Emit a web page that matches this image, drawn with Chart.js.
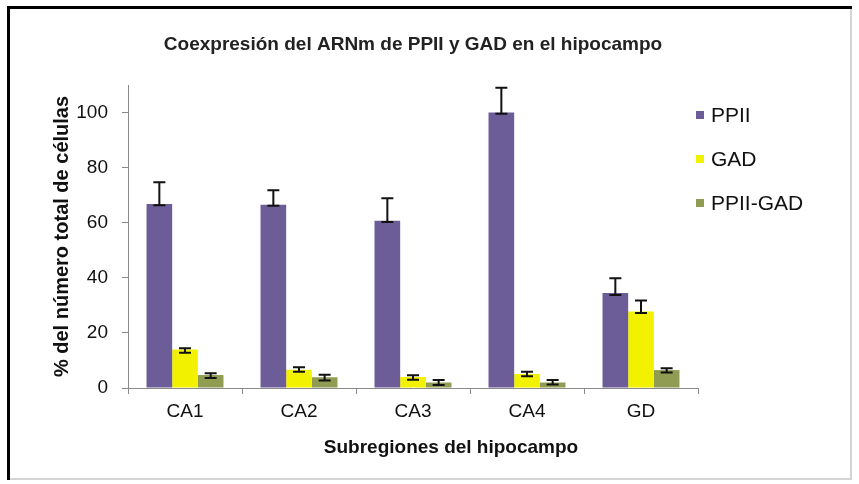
<!DOCTYPE html>
<html>
<head>
<meta charset="utf-8">
<script src="https://cdn.jsdelivr.net/npm/chart.js@4.4.1/dist/chart.umd.min.js"></script>
<style>
    body { margin: 0; background: #fff; }
    canvas { display: block; }
</style>
</head>
<body>
<canvas id="grafica" width="859" height="484"></canvas>
<script>
"use strict"

const subregiones = ["CA1", "CA2", "CA3", "CA4", "GD"];

const ppii = [66.8, 66.5, 60.7, 100, 34.5];
const gad = [14, 6.6, 4, 5.1, 27.8];
const ppiiGad = [4.7, 3.9, 2.0, 2.0, 6.5];

// extremos de las barras de error
const ppiiErrBajo = [66.3, 66.2, 60.3, 99.6, 33.8];
const ppiiErrAlto = [74.7, 71.8, 68.9, 109, 39.8];
const gadErrBajo = [12.8, 5.9, 3.0, 4.3, 27.2];
const gadErrAlto = [14.4, 7.5, 4.6, 5.9, 31.8];
const ppiiGadErrBajo = [3.6, 2.7, 1.1, 1.3, 5.6];
const ppiiGadErrAlto = [5.4, 4.8, 2.9, 2.9, 7.2];

const ticksY = [0, 20, 40, 60, 80, 100];

const tituloX = "Subregiones del hipocampo";

const colorEje = "#8a8a8a";
const fuente = "'Liberation Sans', Arial, sans-serif";

Chart.defaults.font.family = fuente;
Chart.defaults.color = "#111";

const marco = {
    id: "marco",
    beforeDraw(chart) {
        let ctx = chart.ctx;
        ctx.save();
        ctx.fillStyle = "#fff";
        ctx.fillRect(0, 0, chart.width, chart.height);
        ctx.strokeStyle = "#d4d4d4";
        ctx.lineWidth = 2;
        ctx.beginPath();
        ctx.moveTo(851, 8);
        ctx.lineTo(851, 479);
        ctx.lineTo(8, 479);
        ctx.stroke();
        ctx.strokeStyle = "#000";
        ctx.lineWidth = 3;
        ctx.beginPath();
        ctx.moveTo(8.5, 480);
        ctx.lineTo(8.5, 7.5);
        ctx.lineTo(852, 7.5);
        ctx.stroke();
        ctx.restore();
    }
};

const barrasError = {
    id: "barrasError",
    afterDatasetsDraw(chart) {
        let ctx = chart.ctx;
        let ejeY = chart.scales.y;
        ctx.save();
        ctx.strokeStyle = "#111";
        ctx.lineWidth = 2;
        chart.data.datasets.forEach((ds, i) => {
            chart.getDatasetMeta(i).data.forEach((barra, j) => {
                let x = barra.x;
                let y1 = ejeY.getPixelForValue(ds.errBajo[j]);
                let y2 = ejeY.getPixelForValue(ds.errAlto[j]);
                ctx.beginPath();
                ctx.moveTo(x, y1);
                ctx.lineTo(x, y2);
                ctx.moveTo(x - 6, y1);
                ctx.lineTo(x + 6, y1);
                ctx.moveTo(x - 6, y2);
                ctx.lineTo(x + 6, y2);
                ctx.stroke();
            });
        });
        ctx.restore();
    }
};

// leyenda y titulo del eje X, como en el original (a la derecha del centro)
const leyenda = {
    id: "leyenda",
    afterDraw(chart) {
        let ctx = chart.ctx;
        let area = chart.chartArea;
        ctx.save();
        ctx.font = "21px " + fuente;
        ctx.textBaseline = "middle";
        chart.data.datasets.forEach((ds, i) => {
            let yc = area.top + 31 + i * 44;
            ctx.fillStyle = ds.backgroundColor;
            ctx.fillRect(area.right - 2, yc - 5, 8, 8);
            ctx.fillStyle = "#111";
            ctx.fillText(ds.label, area.right + 13, yc);
        });
        ctx.font = "bold 19px " + fuente;
        ctx.textAlign = "center";
        ctx.fillText(tituloX, (area.left + area.right) / 2 + 38, area.bottom + 60);
        ctx.restore();
    }
};

new Chart(document.getElementById("grafica"), {
    type: "bar",
    data: {
        labels: subregiones,
        datasets: [{
            label: "PPII",
            data: ppii,
            errBajo: ppiiErrBajo,
            errAlto: ppiiErrAlto,
            backgroundColor: "#6c5c98"
        }, {
            label: "GAD",
            data: gad,
            errBajo: gadErrBajo,
            errAlto: gadErrAlto,
            backgroundColor: "#f2f200"
        }, {
            label: "PPII-GAD",
            data: ppiiGad,
            errBajo: ppiiGadErrBajo,
            errAlto: ppiiGadErrAlto,
            backgroundColor: "#8f9c52"
        }]
    },
    options: {
        responsive: false,
        animation: false,
        categoryPercentage: 0.675,
        barPercentage: 1,
        layout: {
            padding: { left: 10, right: 161, top: 10, bottom: 10 }
        },
        plugins: {
            legend: { display: false },
            tooltip: { enabled: false },
            title: {
                display: true,
                fullSize: false,
                text: "Coexpresión del ARNm de PPII y GAD en el hipocampo",
                color: "#222",
                font: { size: 19, weight: "bold" },
                padding: { top: 23.6, bottom: 28.6 }
            }
        },
        scales: {
            x: {
                grid: { offset: true, drawOnChartArea: false, tickLength: 6, color: colorEje },
                border: { color: colorEje },
                ticks: { font: { size: 19 }, padding: 6 },
                afterFit(scale) { scale.height = 86; }
            },
            y: {
                min: 0,
                max: 110,
                afterBuildTicks(scale) { scale.ticks = ticksY.map(v => ({ value: v })); },
                grid: { drawOnChartArea: false, tickLength: 6, color: colorEje },
                border: { color: colorEje },
                ticks: { font: { size: 19 }, padding: 14 },
                title: {
                    display: true,
                    text: "% del número total de células",
                    font: { size: 20, weight: "bold" },
                    padding: { top: 40, bottom: 0 }
                },
                afterFit(scale) { scale.width = 118; }
            }
        }
    },
    plugins: [marco, barrasError, leyenda]
});
</script>
</body>
</html>
